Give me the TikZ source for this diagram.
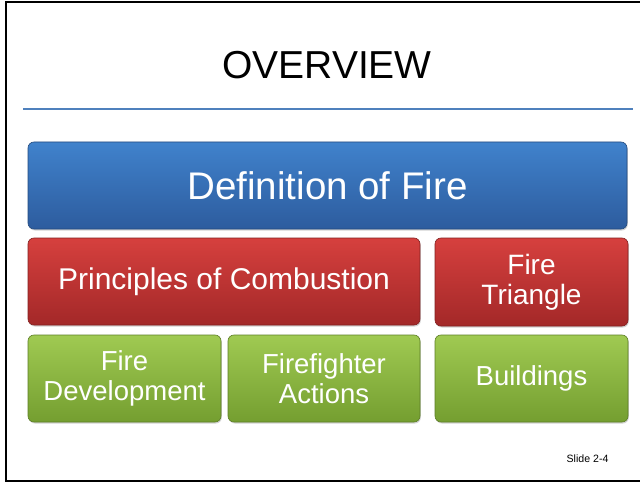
\documentclass[tikz,border=0pt]{standalone}
\usepackage{fontspec}
\setmainfont{Liberation Sans}
\definecolor{bluetop}{RGB}{64,130,204}
\definecolor{bluebot}{RGB}{45,92,158}
\definecolor{redtop}{RGB}{214,64,62}
\definecolor{redbot}{RGB}{163,40,40}
\definecolor{greentop}{RGB}{160,202,82}
\definecolor{greenbot}{RGB}{116,158,48}
\definecolor{rulecol}{RGB}{79,129,189}
\usetikzlibrary{shadows}
\tikzset{
  tile/.style={rounded corners=6pt, inner sep=0pt, align=center, text=white,
    draw=#1bot!80!black, line width=0.6pt, top color=#1top, bottom color=#1bot,
    drop shadow={shadow xshift=0.8pt, shadow yshift=-1.5pt, fill=black!35, opacity=0.5}},
  smalltext/.style={font=\fontsize{27.5}{29.5}\selectfont},
}
\begin{document}
\begin{tikzpicture}[x=1pt,y=-1pt]
\useasboundingbox (0,0) rectangle (640,484);
\fill[white] (0,0) rectangle (640,484);
\draw[line width=2pt] (640,2) -- (6,2) -- (6,481) -- (640,481);
\node[font=\fontsize{39}{44}\selectfont] (title) at (327,65) {OVERVIEW};
\draw[rulecol, line width=1.6pt] (23,109) coordinate (rl) -- (633,109) coordinate (rr);
\node[tile=blue, minimum width=599pt, minimum height=87pt, font=\fontsize{38.5}{42}\selectfont] (def) at (327.5,185.5)
  {Definition of Fire};
\node[tile=red, minimum width=392pt, minimum height=87pt, font=\fontsize{30}{33}\selectfont] (prin) at (224,281.5)
  {Principles of Combustion};
\node[tile=red, minimum width=193pt, minimum height=88pt, font=\fontsize{28}{30}\selectfont] (tri) at (531.5,282)
  {Fire\\Triangle};
\node[tile=green, minimum width=193pt, minimum height=87pt, smalltext] (dev) at (124.5,378.5)
  {Fire\\Development};
\node[tile=green, minimum width=192pt, minimum height=87pt, smalltext] (act) at (324,378.5)
  {Firefighter\\Actions};
\node[tile=green, minimum width=193pt, minimum height=87pt, smalltext] (bld) at (531.5,378.5)
  {Buildings};
\node[anchor=east, font=\fontsize{10.6}{12}\selectfont] (slide) at (612,459) {Slide 2-4};
\end{tikzpicture}
\end{document}
